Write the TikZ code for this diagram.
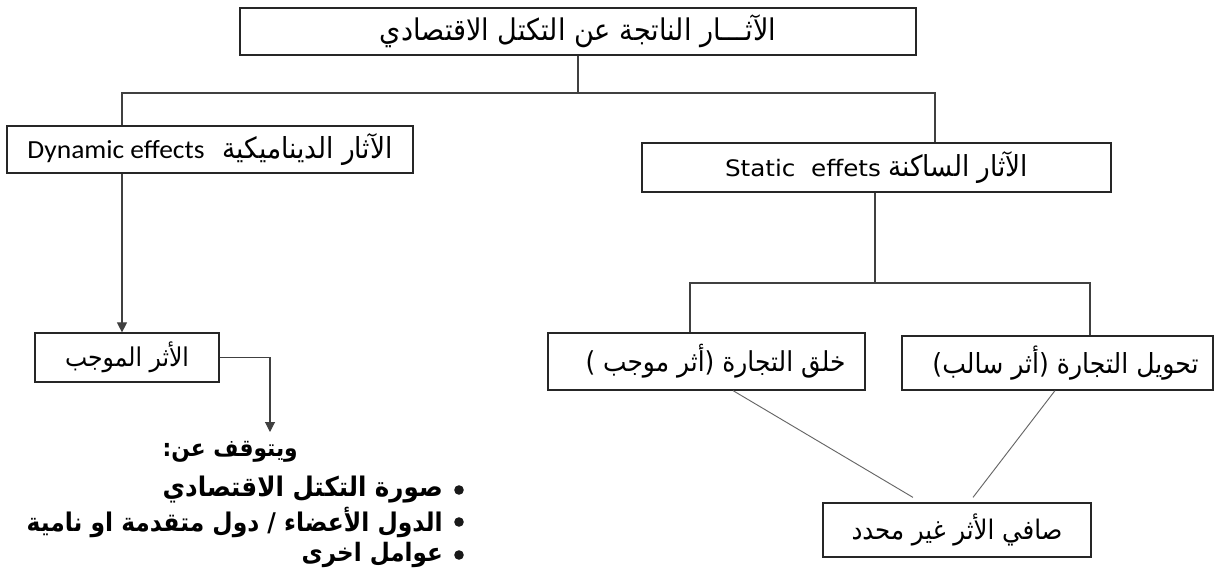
\documentclass[tikz,border=0pt]{standalone}
\usepackage{fontspec}
\usetikzlibrary{arrows.meta,calc}
\TeXXeTstate=1
\newfontfamily\ar[Script=Arabic]{DejaVu Sans}
\newfontfamily\lat{Carlito}
\newfontfamily\latb{DejaVu Sans}
\newdimen\pxu \pxu=0.75pt
\newcommand\fw[2]{\resizebox{#1\pxu}{!}{#2}}
\newcommand\AR[1]{\scalebox{1}[1.1]{\ar\beginR #1\endR}}
\begin{document}
\begin{tikzpicture}[x=0.75pt,y=-0.75pt,
  box/.style={draw=black!85, line width=0.9pt, inner sep=0pt, align=center},
  conn/.style={draw=black!75, line width=0.8pt},
  diag/.style={draw=black!60, line width=0.7pt},
  arr/.style={conn, -{Triangle[length=7.5pt,width=7.5pt]}}
]
\useasboundingbox (0,0) rectangle (1215,586);
\fill[white] (0,0) rectangle (1215,586);

\node[box, minimum width=676*0.75pt, minimum height=47*0.75pt] (top) at (578,31.5)
  {\fw{396}{\AR{الآثـــار الناتجة عن التكتل الاقتصادي}}};
\node[box, minimum width=406*0.75pt, minimum height=47*0.75pt] (dyn) at (210,149.5)
  {\fw{177}{\scalebox{1}[0.95]{\lat Dynamic effects}}\hspace{18\pxu}\fw{170}{\AR{الآثار الديناميكية}}};
\node[box, minimum width=469*0.75pt, minimum height=49*0.75pt] (stat) at (876.5,167.5)
  {\fw{156}{\scalebox{1}[0.92]{\latb Static\ \ effets}}\hspace{7\pxu}\fw{140}{\AR{الآثار الساكنة}}};
\node[box, minimum width=184*0.75pt, minimum height=49*0.75pt] (pos) at (127,357.5)
  {\fw{124}{\AR{الأثر الموجب}}};
\node[box, minimum width=317*0.75pt, minimum height=57*0.75pt] (cre) at (706.5,361.5)
  {\hspace{18\pxu}\fw{260}{\AR{خلق التجارة (أثر موجب )}}};
\node[box, minimum width=311*0.75pt, minimum height=54*0.75pt] (div) at (1057.5,363)
  {\hspace{16\pxu}\fw{266}{\AR{تحويل التجارة (أثر سالب)}}};
\node[box, minimum width=268*0.75pt, minimum height=54*0.75pt] (net) at (957,530)
  {\fw{211}{\AR{صافي الأثر غير محدد}}};

% top tree
\coordinate (j1) at (578,93);
\coordinate (jl) at (122,93);
\coordinate (jr) at (935,93);
\draw[conn] (top.south) -- (j1);
\draw[conn] (jl |- dyn.north) -- (jl) -- (jr) -- (jr |- stat.north);

% dynamic branch
\draw[arr] (dyn.south -| jl) -- (pos.north -| jl);
\coordinate (dep) at (270,432);
\draw[arr] (pos.east) -| (dep);
\node[inner sep=0pt, anchor=east] (dtxt) at (298,452) {\fw{135}{\AR{\bfseries ويتوقف عن:}}};

\foreach \yy/\w/\t [count=\i] in {490/280/{صورة التكتل الاقتصادي},522/416/{الدول الأعضاء / دول متقدمة او نامية},555/141/{عوامل اخرى}}{
  \fill[black!90] (459,\yy) circle[radius=4.8];
  \node[anchor=east, inner sep=0pt] (it\i) at (443,\yy) {\fw{\w}{\AR{\bfseries \t}}};
}

% static branch
\coordinate (s1) at (875,283);
\coordinate (sl) at (690,283);
\coordinate (sr) at (1090,283);
\draw[conn] (stat.south -| s1) -- (s1);
\draw[conn] (sl |- cre.north) -- (sl) -- (sr) -- (sr |- div.north);
\draw[diag] ($(cre.south)+(26.5,0)$) -- ($(net.north)+(-44,-5)$);
\draw[diag] ($(div.south)+(-2.5,0)$) -- ($(net.north)+(16,-5)$);
\end{tikzpicture}
\end{document}
